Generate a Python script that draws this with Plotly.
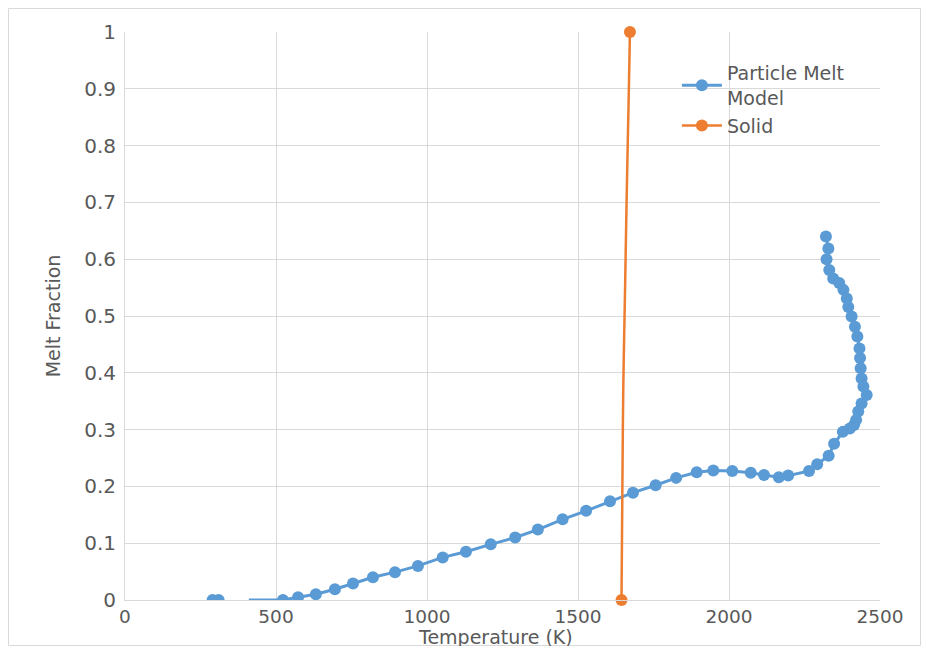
import plotly.graph_objects as go

# Particle Melt Model series (Temperature K, melt fraction)
pm_temp = [290, 310, None, 410, 523, 573, 632, 695, 755, 821, 894, 970,
           1052, 1129, 1211, 1292, 1367, 1449, 1527, 1606, 1682, 1757, 1825,
           1893, 1948, 2011, 2072, 2116, 2165, 2196, 2265, 2292, 2330, 2348,
           2377, 2400, 2414, 2421, 2428, 2439, 2456, 2445, 2439, 2436, 2434,
           2432, 2425, 2417, 2406, 2395, 2390, 2379, 2365, 2345, 2332, 2323,
           2329, 2321]
pm_frac = [0.0, 0.0, None, 0.0, 0.0, 0.005, 0.010, 0.019, 0.029, 0.040, 0.049, 0.060,
           0.075, 0.085, 0.098, 0.110, 0.124, 0.142, 0.157, 0.174, 0.189, 0.202, 0.215,
           0.225, 0.228, 0.227, 0.224, 0.220, 0.216, 0.219, 0.227, 0.239, 0.254, 0.275,
           0.296, 0.302, 0.308, 0.317, 0.332, 0.346, 0.361, 0.376, 0.390, 0.408, 0.426,
           0.443, 0.464, 0.481, 0.499, 0.516, 0.531, 0.546, 0.558, 0.566, 0.581, 0.600,
           0.619, 0.640]

# Solid series
solid_temp = [1644, 1647, 1650, 1656, 1661, 1669, 1672]
solid_frac = [0.0, 0.2, 0.376, 0.552, 0.704, 0.915, 1.0]

x_ticks = [0, 500, 1000, 1500, 2000, 2500]
y_ticks = [0, 0.1, 0.2, 0.3, 0.4, 0.5, 0.6, 0.7, 0.8, 0.9, 1]

BLUE = "#5B9BD5"
ORANGE = "#ED7D31"
CLEAR = "rgba(0,0,0,0)"
FONT = "DejaVu Sans"
GRAY = "#595959"
XTICK_FS = 18.5
YTICK_FS = 20
TITLE_FS = 19
LEG_FS = 19

# points drawn without a marker (line only)
pm_colors = [CLEAR if (t == 410) else BLUE for t in pm_temp]
solid_colors = [ORANGE if i in (0, len(solid_temp) - 1) else CLEAR
                for i in range(len(solid_temp))]

W, H = 913, 638
L, R, T, B = 117, 41, 24, 46

fig = go.Figure()
fig.add_trace(go.Scatter(
    x=pm_temp, y=pm_frac, mode="lines+markers", name="Particle Melt<br>Model",
    line=dict(color=BLUE, width=3), connectgaps=False,
    marker=dict(color=pm_colors, size=12, opacity=1, symbol="circle",
                line=dict(width=0)),
))
fig.add_trace(go.Scatter(
    x=solid_temp, y=solid_frac, mode="lines+markers", name="Solid",
    line=dict(color=ORANGE, width=2.5, shape="spline"),
    marker=dict(color=solid_colors, size=12, opacity=1, symbol="circle",
                line=dict(width=0)),
    cliponaxis=False,
))

pw = W - L - R
ph = H - T - B
fig.update_layout(
    width=W, height=H,
    margin=dict(l=L, r=R, t=T, b=B),
    paper_bgcolor="white", plot_bgcolor="white",
    font=dict(family=FONT, size=YTICK_FS, color=GRAY),
    showlegend=True,
    legend=dict(x=0.731, y=0.961, xanchor="left", yanchor="top",
                bgcolor="rgba(0,0,0,0)", font=dict(size=LEG_FS, color=GRAY),
                itemwidth=40, tracegroupgap=0),
    xaxis=dict(range=[0, 2500], tickvals=x_ticks, showgrid=True,
               gridcolor="#D9D9D9", gridwidth=1, zeroline=False,
               showline=True, linecolor="#D9D9D9", ticks="", automargin=False,
               ticklabelstandoff=0,
               tickfont=dict(size=XTICK_FS, color=GRAY)),
    yaxis=dict(range=[0, 1], tickvals=y_ticks, ticktext=[str(v) for v in y_ticks],
               showgrid=True, gridcolor="#D9D9D9", gridwidth=1, zeroline=False,
               showline=True, linecolor="#D9D9D9", ticks="", automargin=False,
               ticklabelstandoff=4,
               title=dict(text="Melt Fraction", font=dict(size=TITLE_FS, color=GRAY), standoff=18),
               tickfont=dict(size=YTICK_FS, color=GRAY)),
    annotations=[dict(text="Temperature (K)", xref="paper", yref="paper",
                      x=0.491, y=-36.5 / ph, xanchor="center", yanchor="middle",
                      showarrow=False, font=dict(size=TITLE_FS, color=GRAY))],
    shapes=[dict(type="rect", xref="paper", yref="paper",
                 x0=(-L + 0.5) / pw, x1=(W - L - 0.5) / pw,
                 y0=(-B + 0.5) / ph, y1=(H - B - 0.5) / ph,
                 line=dict(color="#D9D9D9", width=1), layer="below")],
)

fig.write_html("out.html")
